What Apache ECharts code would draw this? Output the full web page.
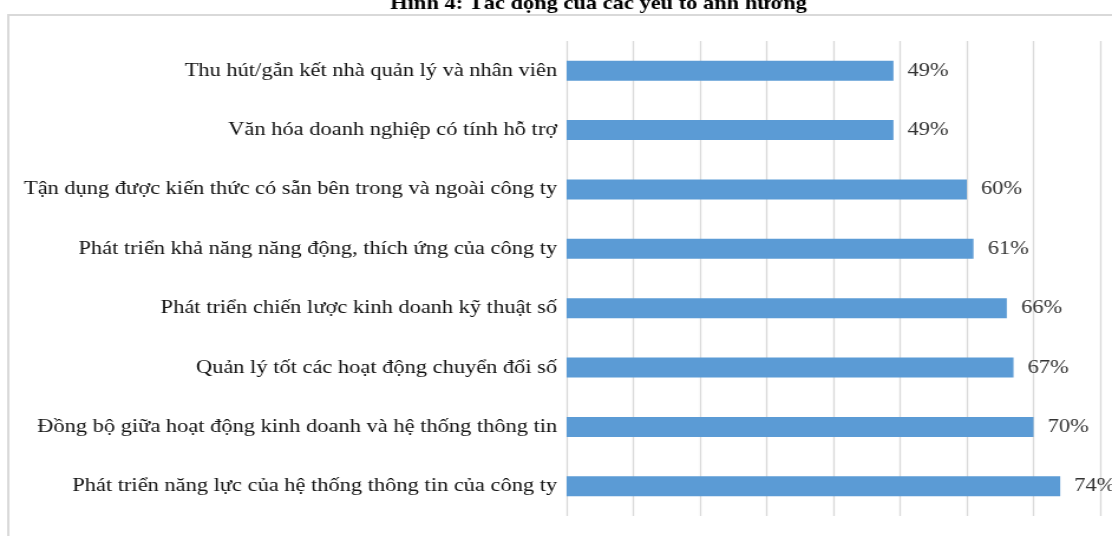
<!DOCTYPE html>
<html>
<head>
<meta charset="utf-8">
<script src="https://cdn.jsdelivr.net/npm/echarts@6/dist/echarts.min.js"></script>
<style>
  html, body { margin: 0; padding: 0; background: #ffffff; overflow: hidden; }
  /* The chart is laid out on a narrower canvas and widened to 1112px,
     which gives the lettering its broad, stretched proportions. */
  #chart {
    width: 942px;
    height: 536px;
    transform: scaleX(1.18047);
    transform-origin: 0 0;
  }
</style>
</head>
<body>
<div id="chart"></div>
<script>
// Factors, listed top to bottom as drawn
const categories = [
  'Thu hút/gắn kết nhà quản lý và nhân viên',
  'Văn hóa doanh nghiệp có tính hỗ trợ',
  'Tận dụng được kiến thức có sẵn bên trong và ngoài công ty',
  'Phát triển khả năng năng động, thích ứng của công ty',
  'Phát triển chiến lược kinh doanh kỹ thuật số',
  'Quản lý tốt các hoạt động chuyển đổi số',
  'Đồng bộ giữa hoạt động kinh doanh và hệ thống thông tin',
  'Phát triển năng lực của hệ thống thông tin của công ty'
];
// Share of respondents (%)
const values = [49, 49, 60, 61, 66, 67, 70, 74];
const titleText = 'Hình 4: Tác động của các yếu tố ảnh hưởng';

const serif = '"Liberation Serif", "DejaVu Serif", serif';

const chart = echarts.init(document.getElementById('chart'), null, { renderer: 'canvas' });
chart.setOption({
  animation: false,
  backgroundColor: '#ffffff',
  graphic: [
    {
      type: 'rect',
      z: -10,
      shape: { x: 7, y: 15, width: 1200, height: 600 },
      style: { fill: '#ffffff', stroke: '#d9d9d9', lineWidth: 2 }
    },
    {
      type: 'text',
      x: 507,
      y: 14,
      style: {
        text: titleText,
        font: 'bold 19px ' + serif,
        fill: '#000000',
        align: 'center',
        verticalAlign: 'bottom'
      }
    }
  ],
  grid: { left: 480, top: 41, width: 452, height: 475, containLabel: false },
  xAxis: {
    type: 'value',
    min: 0,
    max: 80,
    interval: 10,
    axisLine: { show: false },
    axisTick: { show: false },
    axisLabel: { show: false },
    splitLine: { show: true, lineStyle: { color: '#d9d9d9', width: 1.3 } }
  },
  yAxis: {
    type: 'category',
    inverse: true,
    data: categories,
    axisLine: { show: false },
    axisTick: { show: false },
    axisLabel: {
      margin: 8,
      color: '#111111',
      fontFamily: serif,
      fontSize: 19
    }
  },
  series: [{
    type: 'bar',
    data: values,
    barWidth: 20,
    itemStyle: { color: '#5b9bd5' },
    label: {
      show: true,
      position: 'right',
      distance: 12,
      formatter: '{c}%',
      color: '#333333',
      fontFamily: serif,
      fontSize: 19
    }
  }]
});
</script>
</body>
</html>
